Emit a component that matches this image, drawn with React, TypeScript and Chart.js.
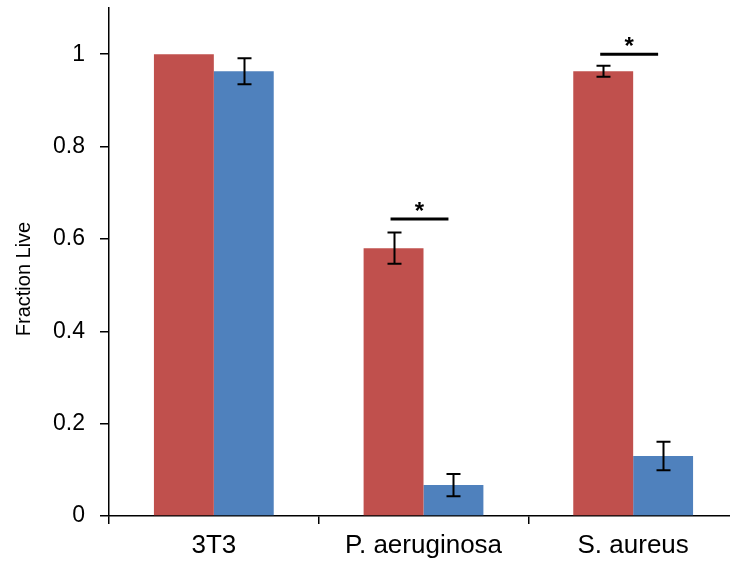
import React, { useEffect, useRef } from "react";
import { Chart, registerables } from "chart.js";

Chart.register(...registerables);

const categories = ["3T3", "P. aeruginosa", "S. aureus"];
const redValues = [1.0, 0.58, 0.963];
const blueValues = [0.963, 0.067, 0.13];
const redErrors = [0, 0.034, 0.012];
const blueErrors = [0.028, 0.024, 0.031];
const sigCategoryIndex = [1, 2];
const sigHeights = [0.643, 1.0];
const yTicks = [0, 0.2, 0.4, 0.6, 0.8, 1];
const yTitle = "Fraction Live";

const RED = "#C0504D";
const BLUE = "#4F81BD";
const FONT = "'Liberation Sans', Arial, sans-serif";

const overlayPlugin = {
  id: "overlay",
  afterDatasetsDraw(chart: any) {
    const ctx = chart.ctx;
    const y = chart.scales.y;
    const errs = [redErrors, blueErrors];
    ctx.save();
    ctx.strokeStyle = "#000";
    ctx.lineWidth = 2;
    errs.forEach((errArr, di) => {
      const meta = chart.getDatasetMeta(di);
      const vals = chart.data.datasets[di].data as number[];
      meta.data.forEach((bar: any, i: number) => {
        const e = errArr[i];
        if (!e) return;
        const x = Math.round(bar.x) + 0.5;
        const yTop = y.getPixelForValue(vals[i] + e);
        const yBot = y.getPixelForValue(vals[i] - e);
        ctx.beginPath();
        ctx.moveTo(x, yTop);
        ctx.lineTo(x, yBot);
        ctx.moveTo(x - 7, yTop);
        ctx.lineTo(x + 7, yTop);
        ctx.moveTo(x - 7, yBot);
        ctx.lineTo(x + 7, yBot);
        ctx.stroke();
      });
    });
    // significance markers
    const m0 = chart.getDatasetMeta(0);
    const m1 = chart.getDatasetMeta(1);
    ctx.lineWidth = 3;
    ctx.fillStyle = "#000";
    ctx.font = `bold 24px ${FONT}`;
    ctx.textAlign = "center";
    ctx.textBaseline = "middle";
    sigCategoryIndex.forEach((ci, k) => {
      const x0 = m0.data[ci].x - 3;
      const x1 = m1.data[ci].x - 5;
      const yy = y.getPixelForValue(sigHeights[k]);
      ctx.beginPath();
      ctx.moveTo(x0, yy);
      ctx.lineTo(x1, yy);
      ctx.stroke();
      ctx.fillText("*", (x0 + x1) / 2, yy - 7);
    });
    // y-axis title
    ctx.font = `20px ${FONT}`;
    ctx.translate(24, 279);
    ctx.rotate(-Math.PI / 2);
    ctx.fillText(yTitle, 0, 0);
    ctx.restore();
  },
};

export default function App() {
  const ref = useRef<HTMLCanvasElement>(null);
  useEffect(() => {
    if (!ref.current) return;
    const chart = new Chart(ref.current, {
      type: "bar",
      data: {
        labels: categories,
        datasets: [
          { data: redValues, backgroundColor: RED, barPercentage: 1, categoryPercentage: 0.5714 },
          { data: blueValues, backgroundColor: BLUE, barPercentage: 1, categoryPercentage: 0.5714 },
        ],
      },
      options: {
        responsive: false,
        animation: false,
        devicePixelRatio: 1,
        layout: { padding: { top: 8, right: 2, left: 0, bottom: 0 } },
        plugins: { legend: { display: false }, tooltip: { enabled: false } },
        scales: {
          x: {
            grid: {
              offset: true,
              drawOnChartArea: false,
              drawTicks: true,
              tickLength: 8,
              color: "#000",
              lineWidth: 1.5,
            },
            border: { color: "#000", width: 1.5 },
            ticks: {
              color: "#000",
              font: { family: FONT, size: 26 },
              padding: 6,
              maxRotation: 0,
            },
            afterFit(scale: any) {
              scale.height = 53;
              scale.paddingLeft = 0;
              scale.paddingRight = 0;
            },
          },
          y: {
            min: 0,
            max: 1.1,
            afterBuildTicks(scale: any) {
              scale.ticks = yTicks.map((v) => ({ value: v }));
            },
            grid: {
              drawOnChartArea: false,
              drawTicks: true,
              tickLength: 9,
              color: "#000",
              lineWidth: 1.5,
            },
            border: { color: "#000", width: 1.5 },
            ticks: {
              color: "#000",
              font: { family: FONT, size: 23 },
              padding: 15,
              callback: (v: any) => String(Number(Number(v).toFixed(1))),
            },
            afterFit(scale: any) {
              scale.width = 109;
              scale.paddingTop = 0;
              scale.paddingBottom = 0;
            },
          },
        },
      },
      plugins: [overlayPlugin],
    });
    return () => chart.destroy();
  }, []);
  return (
    <div style={{ position: "fixed", left: 0, top: 0, width: 730, height: 569, overflow: "hidden", background: "#fff" }}>
      <canvas ref={ref} width={740} height={569} style={{ width: 740, height: 569, display: "block" }} />
    </div>
  );
}
